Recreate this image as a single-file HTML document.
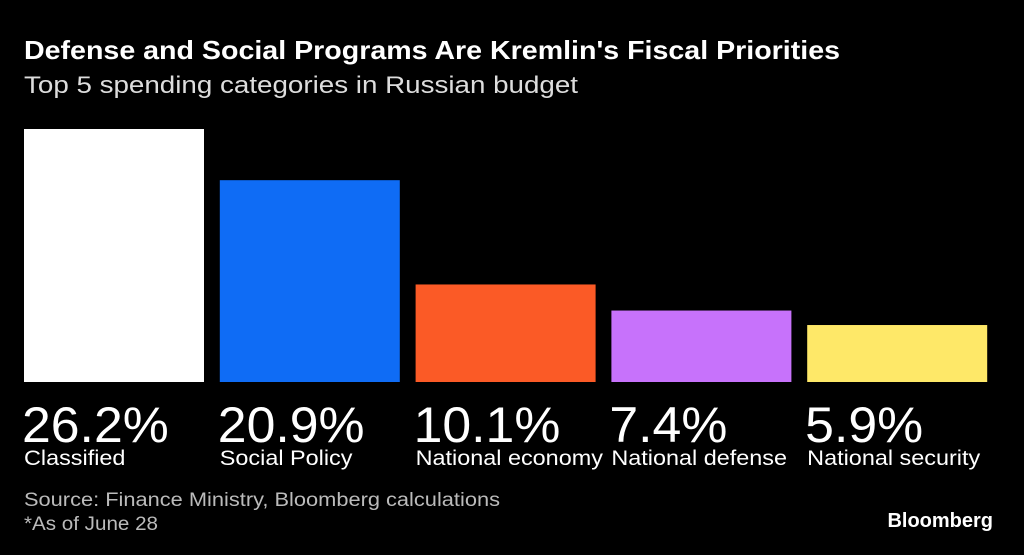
<!DOCTYPE html>
<html><head><meta charset="utf-8"><style>
body{margin:0;background:#000;width:1024px;height:555px;overflow:hidden;font-family:"Liberation Sans",sans-serif;color:#fff}
svg{display:block}
</style></head><body>
<svg width="1024" height="555">
<text x="24" y="59" font-size="26" font-weight="bold" fill="#fff" textLength="816" lengthAdjust="spacingAndGlyphs">Defense and Social Programs Are Kremlin's Fiscal Priorities</text>
<text x="24" y="93" font-size="24" fill="#ddd" textLength="554" lengthAdjust="spacingAndGlyphs">Top 5 spending categories in Russian budget</text>
<g id="bars"></g>
<text x="24" y="506" font-size="19" fill="#bbb" textLength="476" lengthAdjust="spacingAndGlyphs">Source: Finance Ministry, Bloomberg calculations</text>
<text x="24" y="530" font-size="19" fill="#bbb" textLength="134" lengthAdjust="spacingAndGlyphs">*As of June 28</text>
<text x="993" y="527" font-size="20" font-weight="bold" fill="#fff" text-anchor="end">Bloomberg</text>
</svg>
<script>
const categories=["Classified","Social Policy","National economy","National defense","National security"];
const values=[26.2,20.9,10.1,7.4,5.9];
const labels=["26.2%","20.9%","10.1%","7.4%","5.9%"];
const colors=["#ffffff","#0f6cf5","#fb5a26","#c772fb","#fee868"];
const g=document.getElementById('bars');
const ns="http://www.w3.org/2000/svg";
const base=382,scale=253/26.2;
const x=i=>24+i*195.8, y=v=>base-v*scale;
categories.forEach((c,i)=>{
 const r=document.createElementNS(ns,'rect');
 r.setAttribute('x',x(i));r.setAttribute('y',y(values[i]));r.setAttribute('width',180);r.setAttribute('height',base-y(values[i]));r.setAttribute('fill',colors[i]);
 
 
 g.appendChild(r);
 const t=document.createElementNS(ns,'text');
 t.setAttribute('x',x(i)-2);t.setAttribute('y',442);t.setAttribute('font-size',50);t.setAttribute('fill','#fff');t.textContent=labels[i];
 
 
 g.appendChild(t);
 t.setAttribute('font-size',46);
 const tw=t.getComputedTextLength();
 t.setAttribute('font-size',50);
 t.setAttribute('textLength',tw*1.125);t.setAttribute('lengthAdjust','spacingAndGlyphs');
 const l=document.createElementNS(ns,'text');
 l.setAttribute('x',x(i));l.setAttribute('y',465);l.setAttribute('font-size',20);l.setAttribute('fill','#fff');l.textContent=c;
 
 
 g.appendChild(l);
 const lw=l.getComputedTextLength();
 l.setAttribute('font-size',21);
 l.setAttribute('textLength',lw*1.17);l.setAttribute('lengthAdjust','spacingAndGlyphs');
});
</script>
</body></html>
